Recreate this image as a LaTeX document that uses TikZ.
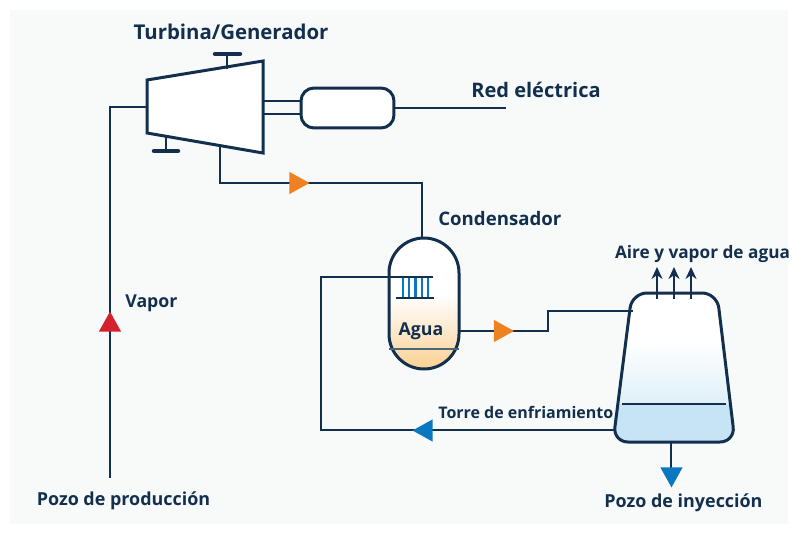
\documentclass[tikz,border=0pt]{standalone}
\usepackage{fontspec}
\setmainfont{Open Sans}
\usepackage{tikz}
\usetikzlibrary{positioning,arrows.meta,shapes.geometric}
\definecolor{ink}{HTML}{12304D}
\definecolor{backdrop}{HTML}{F8F9F9}
\definecolor{flowred}{HTML}{D5202E}
\definecolor{floworange}{HTML}{EE8122}
\definecolor{flowblue}{HTML}{0A78C0}
\definecolor{waterwarm}{HTML}{F9D08F}
\definecolor{warmtop}{HTML}{FBDDB0}
\definecolor{watercold}{HTML}{C6E4F3}
\definecolor{coldtop}{HTML}{DFF0F8}
\newcommand{\lblsize}[1]{\bfseries\fontsize{#1}{12}\selectfont}
\begin{document}
\begin{tikzpicture}[
    x=0.02cm, y=-0.02cm,
    line/.style={draw=ink, line width=0.052cm},
    vessel/.style={draw=ink, line width=0.06cm},
    flag/.style={draw=ink, line width=0.09cm, line cap=round},
    lbl/.style={font=\lblsize{10.1}, text=ink, inner sep=0pt},
    flow/.style={isosceles triangle, isosceles triangle apex angle=58, inner sep=0pt, minimum height=0.4cm, minimum width=0.44cm},
    vent/.style={line, -{Stealth[length=2.4mm, width=2.2mm]}}
]
\useasboundingbox (0,0) rectangle (798,534);
\fill[white] (0,0) rectangle (798,534);
\fill[backdrop] (10,10) rectangle (788,524);

% fixed points of the plant
\coordinate (turbTL) at (147,80);
\coordinate (turbTR) at (263,61);
\coordinate (turbBR) at (263,153);
\coordinate (turbBL) at (147,133);
\coordinate (turbIn) at (147,107);
\coordinate (turbOut) at (220,147);
\coordinate (wellProd) at (110,478);
\coordinate (inCorner) at (110,107);
\coordinate (condTop) at (422,238);
\coordinate (condOut) at (459,331);
\coordinate (towerIn) at (633,311);
\coordinate (towerOut) at (615,430);
\coordinate (towerBase) at (671,442);
\coordinate (gridEnd) at (506,108);
\coordinate (coilEnd) at (433,277);
\coordinate (coilCorner) at (321,277);

% turbine
\draw[vessel, fill=white, line join=miter] (turbTL) -- (turbTR) -- (turbBR) -- (turbBL) -- cycle;
\draw[line] (227,69) -- (227,54);
\draw[flag] (215,54) -- (240,54);
\draw[line] (166,137) -- (166,151);
\draw[flag] (154,151) -- (178,151);

% generator
\node[vessel, fill=white, rounded corners=0.26cm, minimum width=1.86cm, minimum height=0.8cm, inner sep=0pt] (gen) at (347.5,108) {};
\draw[line] (263,101) -- (gen.west |- 0,101);
\draw[line] (263,114) -- (gen.west |- 0,114);
\draw[line] (gen) -- (gridEnd);

% condenser
\begin{scope}
    \clip[rounded corners=0.7cm] (389,238) rectangle (459,369);
    \fill[white] (389,238) rectangle (459,295);
    \shade[top color=white, bottom color=warmtop] (389,295) rectangle (459,349);
    \shade[top color=warmtop, bottom color=waterwarm] (389,349) rectangle (459,369);
\end{scope}
\draw[vessel, rounded corners=0.7cm] (389,238) rectangle (459,369);
\draw[ink!75, line width=0.03cm] (389,349) -- (459,349);

% coil inside the condenser
\foreach \tubex in {403,409,415.5,422,428} {
    \draw[flowblue, line width=0.05cm] (\tubex,277) -- (\tubex,298);
}
\draw[line] (396,298) -- (434,298);

% cooling tower
\begin{scope}
    \clip[rounded corners=0.3cm] (632,293) -- (717,293) -- (735,442) -- (613,442) -- cycle;
    \fill[white] (610,290) rectangle (740,340);
    \shade[top color=white, bottom color=coldtop] (610,340) rectangle (740,404);
    \fill[watercold] (610,404) rectangle (740,445);
\end{scope}
\draw[vessel, rounded corners=0.3cm] (632,293) -- (717,293) -- (735,442) -- (613,442) -- cycle;
\draw[line] (622,404) -- (726,404);

% pipes
\draw[line] (turbIn) -- (inCorner) -- (wellProd);
\draw[line] (turbOut) |- (422,183) -- (condTop);
\draw[line] (coilEnd) -- (coilCorner) |- (towerOut);
\draw[line] (condOut) -- (548,331) -- (548,311) -- (towerIn);
\draw[line] (towerBase) -- (671,468);

% flow marks
\node[flow, fill=flowred, shape border rotate=90] (markVapor) at (110,325) {};
\node[flow, fill=floworange] (markSteam) at (296,183) {};
\node[flow, fill=floworange] (markHot) at (500.5,331) {};
\node[flow, fill=flowblue, shape border rotate=180] (markReturn) at (426,430.5) {};
\node[flow, fill=flowblue, shape border rotate=-90] (markWell) at (671.5,474) {};

% vents
\foreach \ventx in {657,674,691} {
    \draw[vent] (\ventx,299) -- (\ventx,267);
}

% labels
\node[lbl, font=\lblsize{11.6}] (lblTurb) at (231,32) {Turbina/Generador};
\node[lbl, font=\lblsize{11.4}, anchor=west] (lblGrid) at (471,90) {Red eléctrica};
\node[lbl, font=\lblsize{10.6}, anchor=west] (lblCond) at (438,219) {Condensador};
\node[lbl, font=\lblsize{9.8}] (lblAir) at (702.5,254) {Aire y vapor de agua};
\node[lbl, anchor=west] (lblVapor) at (125,303) {Vapor};
\node[lbl] (lblWater) at (421,331) {Agua};
\node[lbl, font=\lblsize{9.1}, anchor=west] (lblTower) at (438,412) {Torre de enfriamiento};
\node[lbl, font=\lblsize{10.2}] (lblInj) at (683.5,503) {Pozo de inyección};
\node[lbl, font=\lblsize{10.2}] (lblProd) at (123.5,501) {Pozo de producción};
\end{tikzpicture}
\end{document}
